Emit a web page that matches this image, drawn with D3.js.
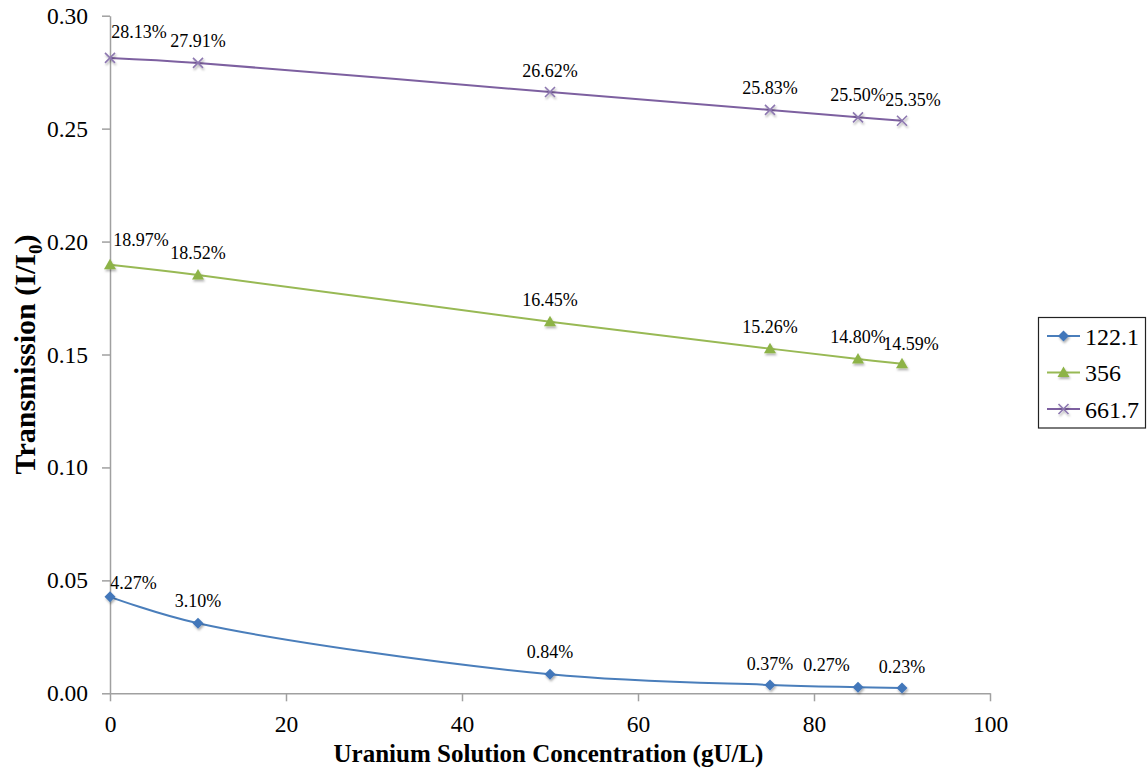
<!DOCTYPE html>
<html>
<head>
<meta charset="utf-8">
<script src="https://cdn.jsdelivr.net/npm/d3@7"></script>
<style>
  html, body { margin: 0; padding: 0; background: #fff; }
</style>
</head>
<body>
<div id="chart"></div>
<script>
// concentrations (gU/L)
const conc = [0, 10, 50, 75, 85, 90];

// transmission per gamma energy (keV)
const t122 = [0.0427, 0.0310, 0.0084, 0.0037, 0.0027, 0.0023];
const t356 = [0.1897, 0.1852, 0.1645, 0.1526, 0.1480, 0.1459];
const t662 = [0.2813, 0.2791, 0.2662, 0.2583, 0.2550, 0.2535];

const seriesNames = ["122.1", "356", "661.7"];
const xTicks = [0, 20, 40, 60, 80, 100];
const yTicks = [0, 0.05, 0.10, 0.15, 0.20, 0.25, 0.30];

const W = 1147, H = 775;
const M = { t: 15.7, r: 157, b: 81.7, l: 110 };
const FONT = "'Liberation Serif', 'Times New Roman', Times, serif";

const series = [
  { name: seriesNames[0], vals: t122, line: "#4A7EBB", mark: "#4377BA", shape: "diamond" },
  { name: seriesNames[1], vals: t356, line: "#98B954", mark: "#8DB347", shape: "triangle" },
  { name: seriesNames[2], vals: t662, line: "#7D60A0", mark: "#8D78B0", shape: "cross" },
];

// hand placement of a few data labels, as in the original (dx, dy from "above")
const nudge = {
  "122.1": [[23.5, 8], [0, 0], [0, 0], [0, 1], [-31.5, 0], [0, 1]],
  "356":   [[31, -3], [0, 0], [0, 0], [0, 0], [0, 0], [9, 2]],
  "661.7": [[29, -4], [0, 0], [0, 1], [0, 0], [0, 0], [11, 1]],
};

const svg = d3.select("#chart").append("svg")
  .attr("width", W).attr("height", H)
  .style("font-family", FONT);

const defs = svg.append("defs");
const f = defs.append("filter").attr("id", "shadow")
  .attr("x", "-50%").attr("y", "-50%").attr("width", "200%").attr("height", "200%");
f.append("feDropShadow").attr("dx", 1).attr("dy", 2).attr("stdDeviation", 1.2)
  .attr("flood-color", "#000").attr("flood-opacity", 0.3);

const x = d3.scaleLinear().domain([0, 100]).range([M.l, W - M.r]);
const y = d3.scaleLinear().domain([0, 0.30]).range([H - M.b, M.t]);

const axisCol = "#A0A0A0";

// y axis
const gy = svg.append("g")
  .attr("transform", `translate(${M.l},0)`)
  .call(d3.axisLeft(y).tickValues(yTicks).tickFormat(d3.format(".2f"))
    .tickSize(8).tickSizeOuter(0).tickPadding(14));
gy.attr("font-family", null);
gy.select(".domain").attr("stroke", axisCol).attr("stroke-width", 1.5);
gy.selectAll(".tick line").attr("stroke", axisCol).attr("stroke-width", 1.5);
gy.selectAll(".tick text").attr("fill", "#000")
  .style("font-family", FONT).style("font-size", "23.5px");

// x axis
const gx = svg.append("g")
  .attr("transform", `translate(0,${y(0)})`)
  .call(d3.axisBottom(x).tickValues(xTicks)
    .tickSize(8).tickSizeOuter(0).tickPadding(14));
gx.attr("font-family", null);
gx.select(".domain").attr("stroke", axisCol).attr("stroke-width", 1.5);
gx.selectAll(".tick line").attr("stroke", axisCol).attr("stroke-width", 1.5);
gx.selectAll(".tick text").attr("fill", "#000")
  .style("font-family", FONT).style("font-size", "23.5px");

// axis titles
svg.append("text")
  .attr("x", (x(0) + x(100)) / 2 - 1.5)
  .attr("y", 762)
  .attr("text-anchor", "middle")
  .attr("font-weight", "bold")
  .style("font-family", FONT)
  .style("font-size", "25px")
  .text("Uranium Solution Concentration (gU/L)");

const yt = svg.append("text")
  .attr("transform", `translate(35,${(y(0) + y(0.3)) / 2}) rotate(-90)`)
  .attr("text-anchor", "middle")
  .attr("font-weight", "bold")
  .style("font-family", FONT)
  .style("font-size", "30px");
yt.append("tspan").text("Transmission (I/I");
yt.append("tspan").attr("dy", 7).style("font-size", "19px").text("0");
yt.append("tspan").attr("dy", -7).text(")");

function marker(g, shape, color, cx, cy) {
  if (shape === "diamond") {
    g.append("path")
      .attr("d", `M${cx},${cy - 5.5}L${cx + 5.5},${cy}L${cx},${cy + 5.5}L${cx - 5.5},${cy}Z`)
      .attr("fill", color).attr("filter", "url(#shadow)");
  } else if (shape === "triangle") {
    g.append("path")
      .attr("d", `M${cx},${cy - 6}L${cx + 6},${cy + 4.5}L${cx - 6},${cy + 4.5}Z`)
      .attr("fill", color).attr("filter", "url(#shadow)");
  } else {
    g.append("path")
      .attr("d", `M${cx - 5},${cy - 5}L${cx + 5},${cy + 5}M${cx - 5},${cy + 5}L${cx + 5},${cy - 5}`)
      .attr("stroke", color).attr("stroke-width", 1.6).attr("fill", "none")
      .attr("filter", "url(#shadow)");
  }
}

const line = d3.line()
  .x((d, i) => x(conc[i]))
  .y(d => y(d))
  .curve(d3.curveCatmullRom.alpha(0.5));

const fmt = d => (d * 100).toFixed(2) + "%";

series.forEach(s => {
  const g = svg.append("g");
  g.append("path")
    .attr("d", line(s.vals))
    .attr("fill", "none")
    .attr("stroke", s.line)
    .attr("stroke-width", 2);
  s.vals.forEach((v, i) => marker(g, s.shape, s.mark, x(conc[i]), y(v)));
  s.vals.forEach((v, i) => {
    const [dx, dy] = nudge[s.name][i];
    g.append("text")
      .attr("x", x(conc[i]) + dx)
      .attr("y", y(v) - 16 + dy)
      .attr("text-anchor", "middle")
      .attr("fill", "#000")
      .style("font-family", FONT)
      .style("font-size", "18px")
      .text(fmt(v));
  });
});

// legend
const lg = svg.append("g");
lg.append("rect")
  .attr("x", 1038.5).attr("y", 317.5).attr("width", 107).attr("height", 110.5)
  .attr("fill", "#fff").attr("stroke", "#222").attr("stroke-width", 1.2);
const rowY = [336, 372.5, 409];
series.forEach((s, i) => {
  const ry = rowY[i];
  lg.append("line")
    .attr("x1", 1047).attr("x2", 1080).attr("y1", ry).attr("y2", ry)
    .attr("stroke", s.line).attr("stroke-width", 2);
  marker(lg, s.shape, s.mark, 1063.5, ry);
  lg.append("text")
    .attr("x", 1085).attr("y", ry + 8.5)
    .attr("fill", "#000")
    .style("font-family", FONT)
    .style("font-size", "24px")
    .text(s.name);
});
</script>
</body>
</html>
